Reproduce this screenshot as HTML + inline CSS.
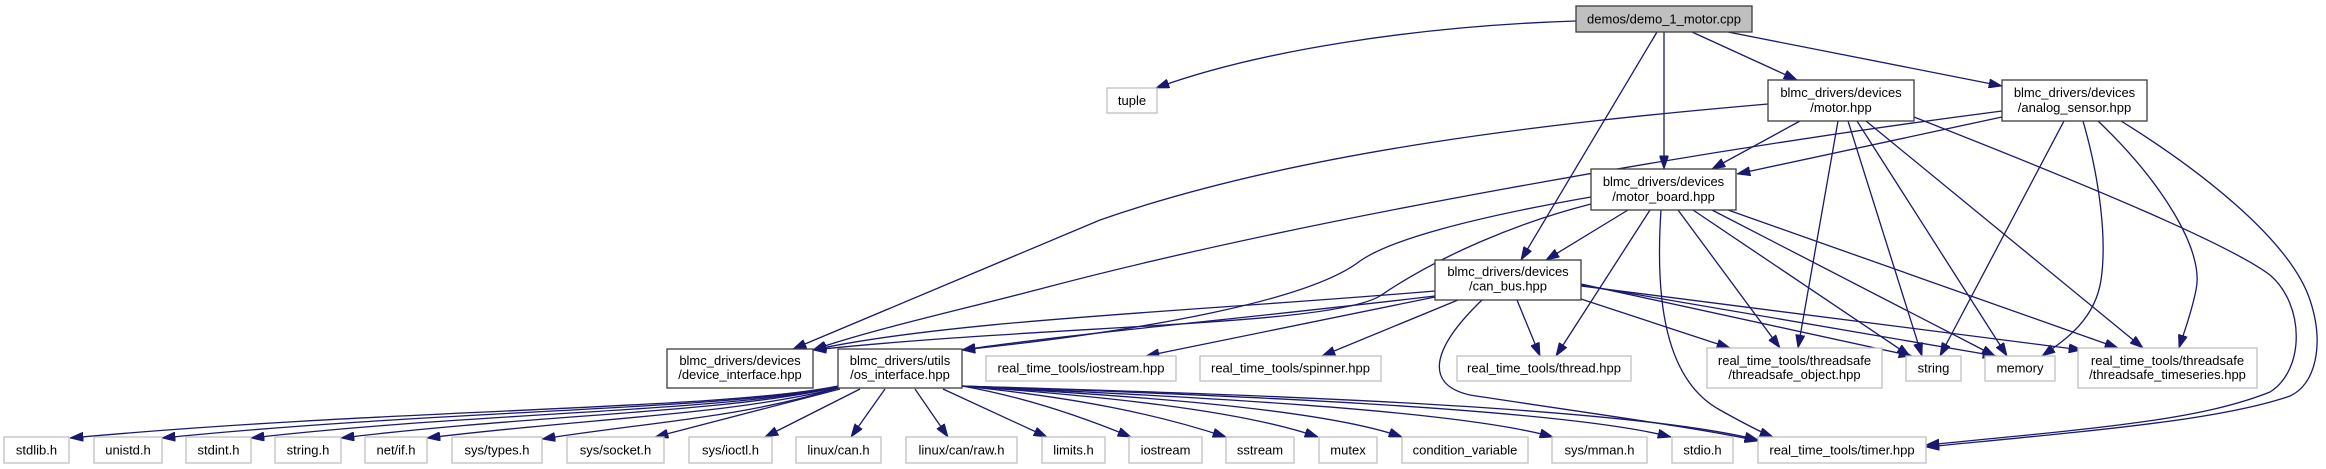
<!DOCTYPE html>
<html>
<head>
<meta charset="utf-8">
<style>
  html, body { margin: 0; padding: 0; background: #ffffff; }
  body { width: 2326px; height: 469px; overflow: hidden; }
  svg { display: block; }
  text { font-family: "Liberation Sans", Helvetica, Arial, sans-serif; font-size: 13px; fill: #000; }
  .e { fill: none; stroke: #191970; stroke-width: 1.3; marker-end: url(#ah); }
  .n { fill: #ffffff; stroke: #3c3c3c; stroke-width: 1.3; }
  .l { fill: #ffffff; stroke: #bfbfbf; stroke-width: 1.3; }
  .r { fill: #bfbfbf; stroke: #3c3c3c; stroke-width: 1.3; }
</style>
</head>
<body>
<svg width="2326" height="469" viewBox="0 0 2326 469" xmlns="http://www.w3.org/2000/svg">
  <defs>
    <marker id="ah" viewBox="0 0 13.3 9.3" refX="13.3" refY="4.65" markerWidth="13.3" markerHeight="9.3" markerUnits="userSpaceOnUse" orient="auto">
      <path d="M0,0 L13.3,4.65 L0,9.3 z" fill="#191970" stroke="#191970" stroke-width="0.8"/>
    </marker>
  </defs>
  <rect x="0" y="0" width="2326" height="469" fill="#ffffff"/>

  <!-- edges from demo -->
  <path class="e" d="M1576,21 C1420,26 1260,50 1156,88"/>
  <path class="e" d="M1664,32 L1664,169"/>
  <path class="e" d="M1692,32 L1797,80"/>
  <path class="e" d="M1728,32 L2002,86"/>
  <path class="e" d="M1657,32 L1521,260"/>

  <!-- edges from motor.hpp -->
  <path class="e" d="M1768,104 C1560,122 1300,150 1100,220 L793,349"/>
  <path class="e" d="M1800,121 L1712,169"/>
  <path class="e" d="M1838,121 L1798,348"/>
  <path class="e" d="M1848,121 L1922,356"/>
  <path class="e" d="M1857,121 L2007,356"/>
  <path class="e" d="M1866,121 L2143,348"/>
  <path class="e" d="M1914,117 C2100,190 2230,245 2270,275 C2305,305 2305,370 2270,392 C2200,420 2100,428 1926,445"/>

  <!-- edges from analog_sensor.hpp -->
  <path class="e" d="M2002,111 C1700,150 1300,220 1040,289 C960,310 870,330 813,350"/>
  <path class="e" d="M2002,117 L1737,174"/>
  <path class="e" d="M2064,121 L1940,356"/>
  <path class="e" d="M2083,121 C2100,180 2107,240 2101,280 C2095,320 2065,340 2042,356"/>
  <path class="e" d="M2098,121 C2160,180 2205,250 2196,290 C2191,315 2183,335 2179,348"/>
  <path class="e" d="M2121,121 C2200,170 2290,240 2310,300 C2325,345 2315,385 2290,396 C2220,420 2100,430 1926,447"/>

  <!-- edges from motor_board.hpp -->
  <path class="e" d="M1628,210 L1546,260"/>
  <path class="e" d="M1650,210 L1556,356"/>
  <path class="e" d="M1661,210 C1655,300 1665,380 1720,410 C1745,424 1760,432 1773,437"/>
  <path class="e" d="M1678,210 L1780,348"/>
  <path class="e" d="M1693,210 L1910,356"/>
  <path class="e" d="M1712,210 L1995,356"/>
  <path class="e" d="M1728,210 L2118,348"/>
  <path class="e" d="M1591,197 C1470,218 1390,240 1360,261 C1310,300 1150,330 962,350"/>
  <path class="e" d="M1591,204 C1520,222 1440,255 1380,296 C1330,326 1050,325 813,350"/>

  <!-- edges from can_bus.hpp -->
  <path class="e" d="M1435,291 C1200,311 950,320 813,350"/>
  <path class="e" d="M1435,296 C1250,318 1060,335 962,350"/>
  <path class="e" d="M1435,297 L1146,356"/>
  <path class="e" d="M1458,300 L1322,356"/>
  <path class="e" d="M1517,300 L1540,356"/>
  <path class="e" d="M1482,300 C1430,350 1425,385 1470,395 C1580,412 1700,428 1758,441"/>
  <path class="e" d="M1581,299 L1730,348"/>
  <path class="e" d="M1581,284 L1912,356"/>
  <path class="e" d="M1581,285 L1996,356"/>
  <path class="e" d="M1581,286 L2082,350"/>

  <!-- edges from os_interface.hpp -->
  <path class="e" d="M838,386 C720,410 400,408 70,438"/>
  <path class="e" d="M838,387 C720,410 440,410 162,438"/>
  <path class="e" d="M838,387 C720,412 480,412 251,438"/>
  <path class="e" d="M838,387 C725,413 540,414 341,438"/>
  <path class="e" d="M838,388 C730,415 590,418 427,438"/>
  <path class="e" d="M838,388 C740,418 650,422 542,439"/>
  <path class="e" d="M840,389 L655,437"/>
  <path class="e" d="M860,389 L765,437"/>
  <path class="e" d="M885,389 L851,437"/>
  <path class="e" d="M915,389 L948,437"/>
  <path class="e" d="M943,389 L1047,437"/>
  <path class="e" d="M962,386 C1030,398 1090,420 1131,437"/>
  <path class="e" d="M962,386 C1080,398 1160,415 1226,437"/>
  <path class="e" d="M962,386 C1100,396 1240,410 1318,437"/>
  <path class="e" d="M962,386 C1120,395 1320,408 1402,437"/>
  <path class="e" d="M962,386 C1150,395 1450,408 1553,437"/>
  <path class="e" d="M962,386 C1200,394 1560,408 1671,437"/>
  <path class="e" d="M962,386 C1200,393 1620,405 1758,440"/>

  <!-- nodes -->
  <rect class="r" x="1576" y="6" width="176" height="26"/>
  <text x="1664" y="23.5" text-anchor="middle">demos/demo_1_motor.cpp</text>

  <rect class="l" x="1107" y="88" width="50" height="25"/>
  <text x="1132" y="105" text-anchor="middle">tuple</text>

  <rect class="n" x="1768" y="80" width="146" height="41"/>
  <text x="1841" y="97" text-anchor="middle">blmc_drivers/devices</text>
  <text x="1841" y="112" text-anchor="middle">/motor.hpp</text>

  <rect class="n" x="2002" y="80" width="145" height="41"/>
  <text x="2074.5" y="97" text-anchor="middle">blmc_drivers/devices</text>
  <text x="2074.5" y="112" text-anchor="middle">/analog_sensor.hpp</text>

  <rect class="n" x="1591" y="169" width="145" height="41"/>
  <text x="1663.5" y="186" text-anchor="middle">blmc_drivers/devices</text>
  <text x="1663.5" y="201" text-anchor="middle">/motor_board.hpp</text>

  <rect class="n" x="1435" y="260" width="146" height="40"/>
  <text x="1508" y="276" text-anchor="middle">blmc_drivers/devices</text>
  <text x="1508" y="290.5" text-anchor="middle">/can_bus.hpp</text>

  <rect class="n" x="667" y="349" width="146" height="39"/>
  <text x="740" y="365" text-anchor="middle">blmc_drivers/devices</text>
  <text x="740" y="379" text-anchor="middle">/device_interface.hpp</text>

  <rect class="n" x="838" y="349" width="124" height="39"/>
  <text x="900" y="365" text-anchor="middle">blmc_drivers/utils</text>
  <text x="900" y="379" text-anchor="middle">/os_interface.hpp</text>

  <rect class="l" x="986" y="356" width="190" height="25"/>
  <text x="1081" y="372.5" text-anchor="middle">real_time_tools/iostream.hpp</text>

  <rect class="l" x="1200" y="356" width="181" height="25"/>
  <text x="1290.5" y="372.5" text-anchor="middle">real_time_tools/spinner.hpp</text>

  <rect class="l" x="1457" y="356" width="174" height="25"/>
  <text x="1544" y="372.5" text-anchor="middle">real_time_tools/thread.hpp</text>

  <rect class="l" x="1707" y="348" width="175" height="40"/>
  <text x="1794.5" y="365" text-anchor="middle">real_time_tools/threadsafe</text>
  <text x="1794.5" y="379" text-anchor="middle">/threadsafe_object.hpp</text>

  <rect class="l" x="1906" y="356" width="55" height="25"/>
  <text x="1933.5" y="372.5" text-anchor="middle">string</text>

  <rect class="l" x="1985" y="356" width="70" height="25"/>
  <text x="2020" y="372.5" text-anchor="middle">memory</text>

  <rect class="l" x="2078" y="348" width="179" height="40"/>
  <text x="2167.5" y="365" text-anchor="middle">real_time_tools/threadsafe</text>
  <text x="2167.5" y="379" text-anchor="middle">/threadsafe_timeseries.hpp</text>

  <!-- bottom row -->
  <rect class="l" x="4" y="437" width="65" height="26"/>
  <text x="36.5" y="454.5" text-anchor="middle">stdlib.h</text>
  <rect class="l" x="94" y="437" width="68" height="26"/>
  <text x="128" y="454.5" text-anchor="middle">unistd.h</text>
  <rect class="l" x="186" y="437" width="65" height="26"/>
  <text x="218.5" y="454.5" text-anchor="middle">stdint.h</text>
  <rect class="l" x="275" y="437" width="66" height="26"/>
  <text x="308" y="454.5" text-anchor="middle">string.h</text>
  <rect class="l" x="365" y="437" width="62" height="26"/>
  <text x="396" y="454.5" text-anchor="middle">net/if.h</text>
  <rect class="l" x="452" y="437" width="90" height="26"/>
  <text x="497" y="454.5" text-anchor="middle">sys/types.h</text>
  <rect class="l" x="567" y="437" width="97" height="26"/>
  <text x="615.5" y="454.5" text-anchor="middle">sys/socket.h</text>
  <rect class="l" x="689" y="437" width="83" height="26"/>
  <text x="730.5" y="454.5" text-anchor="middle">sys/ioctl.h</text>
  <rect class="l" x="796" y="437" width="85" height="26"/>
  <text x="838.5" y="454.5" text-anchor="middle">linux/can.h</text>
  <rect class="l" x="906" y="437" width="111" height="26"/>
  <text x="961.5" y="454.5" text-anchor="middle">linux/can/raw.h</text>
  <rect class="l" x="1042" y="437" width="63" height="26"/>
  <text x="1073.5" y="454.5" text-anchor="middle">limits.h</text>
  <rect class="l" x="1129" y="437" width="73" height="26"/>
  <text x="1165.5" y="454.5" text-anchor="middle">iostream</text>
  <rect class="l" x="1226" y="437" width="68" height="26"/>
  <text x="1260" y="454.5" text-anchor="middle">sstream</text>
  <rect class="l" x="1319" y="437" width="58" height="26"/>
  <text x="1348" y="454.5" text-anchor="middle">mutex</text>
  <rect class="l" x="1402" y="437" width="126" height="26"/>
  <text x="1465" y="454.5" text-anchor="middle">condition_variable</text>
  <rect class="l" x="1552" y="437" width="95" height="26"/>
  <text x="1599.5" y="454.5" text-anchor="middle">sys/mman.h</text>
  <rect class="l" x="1672" y="437" width="61" height="26"/>
  <text x="1702.5" y="454.5" text-anchor="middle">stdio.h</text>
  <rect class="l" x="1758" y="437" width="168" height="26"/>
  <text x="1842" y="454.5" text-anchor="middle">real_time_tools/timer.hpp</text>
</svg>
</body>
</html>
